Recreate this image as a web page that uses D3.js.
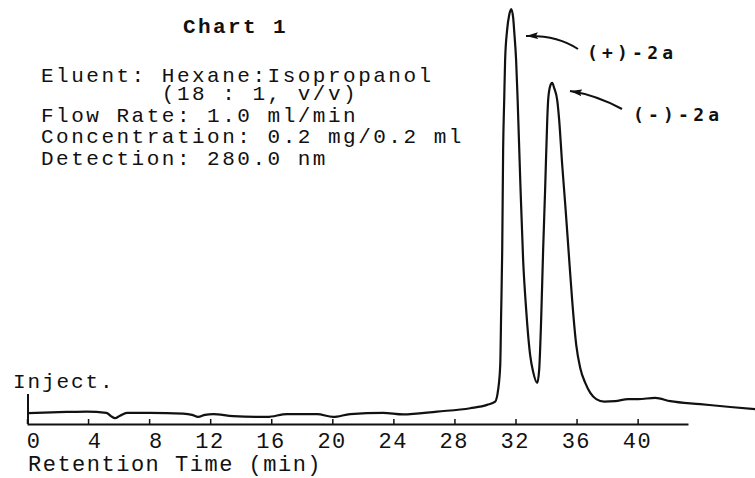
<!DOCTYPE html>
<html><head><meta charset="utf-8">
<script src="https://cdn.jsdelivr.net/npm/d3@7"></script>
<style>body{margin:0;background:#fff}svg{display:block}</style>
</head><body>
<svg id="c" width="755" height="478"></svg>
<script>
// Retention time (min) and detector signal (relative, max peak = 100)
const times = [0.1,2.6,3.9,5.2,5.5,5.77,6.09,6.55,8.06,10.22,10.81,11.21,11.66,12.19,13.5,15.73,17.04,19.0,20.05,21.17,23.33,24.64,26.87,29.03,30.14,30.67,30.86,31.0,31.06,31.13,31.19,31.26,31.32,31.45,31.59,31.72,31.85,31.91,32.04,32.14,32.31,32.5,32.7,32.96,33.16,33.42,33.55,33.68,33.81,33.94,34.08,34.14,34.27,34.4,34.53,34.73,34.86,35.06,35.26,35.52,35.71,35.98,36.24,36.57,36.9,37.29,37.81,38.53,39.38,40.04,41.15,42.14,44.1,46.07,47.71];
const signal = [2.6,2.9,3.0,2.7,1.9,1.4,2.0,2.7,2.7,2.5,2.2,1.7,2.2,2.4,1.9,1.7,2.4,2.4,1.7,2.4,2.7,2.3,3.0,3.8,4.6,5.4,8.2,14.2,26.7,41.9,66.0,78.1,87.7,94.9,98.6,100,97.8,94.9,87.7,78.1,58.8,39.5,27.5,16.6,12.5,9.9,13.0,25.1,41.9,56.4,73.3,78.1,81.4,82.2,81.0,78.1,73.3,62.4,52.8,39.5,29.9,19.0,13.5,9.9,7.5,6.0,5.4,5.5,6.0,6.0,6.3,5.5,4.8,4.1,3.6];
const tickValues = [0,4,8,12,16,20,24,28,32,36,40];
const title = "Chart 1";
const conditions = ["Eluent: Hexane:Isopropanol","        (18 : 1, v/v)","Flow Rate: 1.0 ml/min","Concentration: 0.2 mg/0.2 ml","Detection: 280.0 nm"];
const peakLabels = ["(+)-2a","(-)-2a"];
const xLabel = "Retention Time (min)";
const injectLabel = "Inject.";

const svg = d3.select("#c");
const x = d3.scaleLinear().domain([0,43.3]).range([27,688]);
const y = d3.scaleLinear().domain([0,100]).range([424,9]);
const mono = "'Liberation Mono','Courier New',monospace";

// axis
const ax = svg.append("g").attr("transform","translate(0,424)")
  .call(d3.axisBottom(x).tickValues(tickValues).tickSizeInner(-5).tickSizeOuter(0));
ax.select(".domain").attr("stroke","#111").attr("stroke-width",2);
ax.selectAll(".tick line").attr("stroke","#111").attr("stroke-width",1.5);
ax.selectAll(".tick text").attr("fill","#111").attr("font-family",mono).attr("font-size",22)
  .attr("letter-spacing",1.5).attr("text-anchor","end").attr("x",14).attr("y",24).attr("dy",0);

svg.append("text").attr("x",28).attr("y",471).attr("font-family",mono).attr("font-size",22)
  .attr("letter-spacing",1.5).attr("fill","#111").text(xLabel);

// inject marker
svg.append("line").attr("x1",x(0)+1).attr("x2",x(0)+1).attr("y1",394).attr("y2",424)
  .attr("stroke","#111").attr("stroke-width",2);
svg.append("text").attr("x",13).attr("y",388).attr("font-family",mono).attr("font-size",21)
  .attr("letter-spacing",1.9).attr("fill","#111").text(injectLabel);

// trace
const line = d3.line().x((d,i)=>x(times[i])).y((d,i)=>y(signal[i])).curve(d3.curveMonotoneX);
svg.append("path").attr("d",line(times)).attr("fill","none").attr("stroke","#111")
  .attr("stroke-width",2.2).attr("stroke-linejoin","round");

// text block
svg.append("text").attr("x",183).attr("y",33).attr("font-family",mono).attr("font-size",21)
  .attr("font-weight","bold").attr("letter-spacing",2.4).attr("fill","#111").text(title);
const baselines = [82,100,122,143,165];
svg.selectAll("text.cond").data(conditions).join("text").attr("class","cond")
  .attr("x",41).attr("y",(d,i)=>baselines[i]).attr("font-family",mono).attr("font-size",21)
  .attr("letter-spacing",2.5).attr("fill","#111").style("white-space","pre").text(d=>d);

// annotations
svg.append("defs").append("marker").attr("id","ah").attr("markerUnits","userSpaceOnUse")
  .attr("markerWidth",13).attr("markerHeight",8).attr("refX",12).attr("refY",4).attr("orient","auto")
  .append("path").attr("d","M0,0.6 L12,4 L0,7.4 L2,4 Z").attr("fill","#111");
const arrows = ["M578,49 Q557,35 526,36","M622,109 Q596,95 570,91"];
svg.selectAll("path.arr").data(arrows).join("path").attr("class","arr").attr("d",d=>d)
  .attr("fill","none").attr("stroke","#111").attr("stroke-width",2).attr("marker-end","url(#ah)");
const lx=[587,633], ly=[59,121];
svg.selectAll("text.pk").data(peakLabels).join("text").attr("class","pk")
  .attr("x",(d,i)=>lx[i]).attr("y",(d,i)=>ly[i]).attr("font-family","'DejaVu Sans Mono',monospace")
  .attr("font-size",18).attr("font-weight","bold").attr("letter-spacing",4.2).attr("fill","#111").text(d=>d);
</script>
</body></html>
